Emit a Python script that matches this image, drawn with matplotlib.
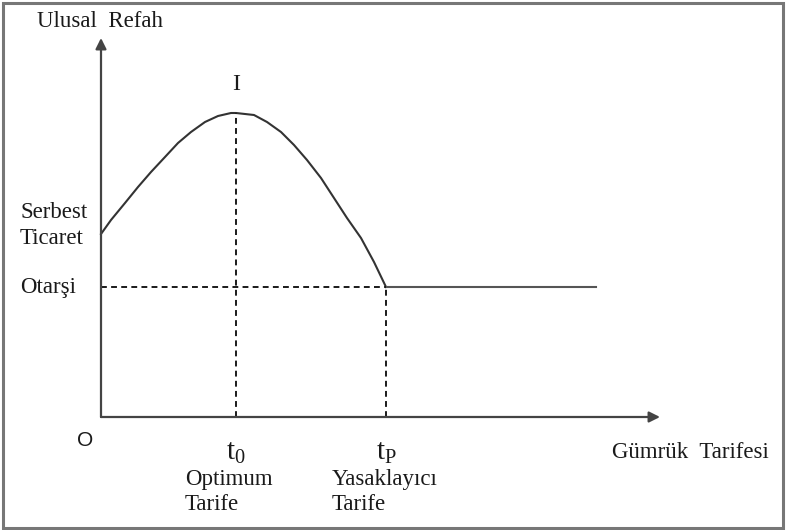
import matplotlib.pyplot as plt
from matplotlib.patches import Rectangle

plt.rcParams['font.family'] = ['Liberation Serif', 'DejaVu Serif']
plt.rcParams['mathtext.fontset'] = 'custom'
plt.rcParams['mathtext.rm'] = 'Liberation Serif'
plt.rcParams['mathtext.it'] = 'Liberation Serif'

# welfare curve (tariff, welfare)
tariff = [0.0, 0.10, 0.24, 0.37, 0.50, 0.64, 0.77, 0.90, 1.04, 1.17, 1.30, 1.35,
          1.53, 1.66, 1.80, 1.93, 2.06, 2.20, 2.33, 2.46, 2.60, 2.73, 2.85]
welfare = [1.83, 1.97, 2.14, 2.30, 2.45, 2.60, 2.74, 2.85, 2.95, 3.01, 3.04, 3.04,
           3.02, 2.95, 2.85, 2.72, 2.57, 2.39, 2.19, 1.99, 1.79, 1.55, 1.30]
flat_end = 4.95

t_opt = 1.35
t_pro = 2.85
w_peak = 3.04
w_aut = 1.30

x_arrow = 5.59
y_arrow = 3.79

ink = '#1a1a1a'

fig = plt.figure(figsize=(7.86, 5.30), dpi=100)
ax = fig.add_axes([0, 0, 1, 1])
ax.set_xlim(-1.01, 6.85)
ax.set_ylim(-1.13, 4.17)
ax.axis('off')

# axes with arrows
for tip in [(0, y_arrow), (x_arrow, 0)]:
    ax.annotate('', xy=tip, xytext=(0, 0),
                arrowprops=dict(arrowstyle='-|>', color='#444444', lw=1.6,
                                mutation_scale=16, shrinkA=0, shrinkB=0))

# welfare curve + flat autarky part
ax.plot(tariff, welfare, color='#333333', lw=1.5, solid_joinstyle='round')
ax.plot([t_pro, flat_end], [w_aut, w_aut], color='#555555', lw=1.5)

# dashed guides
dash = dict(color=ink, lw=1.4, ls=(0, (3, 2.2)))
ax.plot([t_opt, t_opt], [0, w_peak], **dash)
ax.plot([t_pro, t_pro], [0, w_aut], **dash)
ax.plot([0, t_pro], [w_aut, w_aut], **dash)

fs = 16.5
ax.text(-0.01, 3.95, 'Ulusal  Refah', ha='center', va='center', fontsize=fs, color=ink)
ax.text(t_opt, 3.32, 'I', ha='center', va='center', fontsize=fs + 1, color=ink)
ax.text(-0.81, 2.05, 'Serbest', ha='left', va='center', fontsize=fs, color=ink)
ax.text(-0.81, 1.79, 'Ticaret', ha='left', va='center', fontsize=fs, color=ink)
ax.text(-0.81, 1.29, 'Otarşi', ha='left', va='center', fontsize=fs, color=ink)
ax.text(-0.16, -0.23, 'O', ha='center', va='center', fontsize=15,
        family='Liberation Sans', color=ink)
ax.text(t_opt, -0.36, r'$\mathrm{t}_{0}$', ha='center', va='center', fontsize=21, color=ink)
ax.text(t_pro, -0.36, r'$\mathrm{t}_{\mathrm{P}}$', ha='center', va='center', fontsize=21, color=ink)
ax.text(0.84, -0.63, 'Optimum', ha='left', va='center', fontsize=fs, color=ink)
ax.text(0.84, -0.88, 'Tarife', ha='left', va='center', fontsize=fs, color=ink)
ax.text(2.31, -0.63, 'Yasaklayıcı', ha='left', va='center', fontsize=fs, color=ink)
ax.text(2.31, -0.88, 'Tarife', ha='left', va='center', fontsize=fs, color=ink)
ax.text(5.11, -0.36, 'Gümrük  Tarifesi', ha='left', va='center', fontsize=fs, color=ink)

# frame around the picture
fig.patches.append(Rectangle((0.004, 0.004), 0.992, 0.990, transform=fig.transFigure,
                             fill=False, edgecolor='#777777', lw=2.2))

fig.savefig('out.png', dpi=100)
